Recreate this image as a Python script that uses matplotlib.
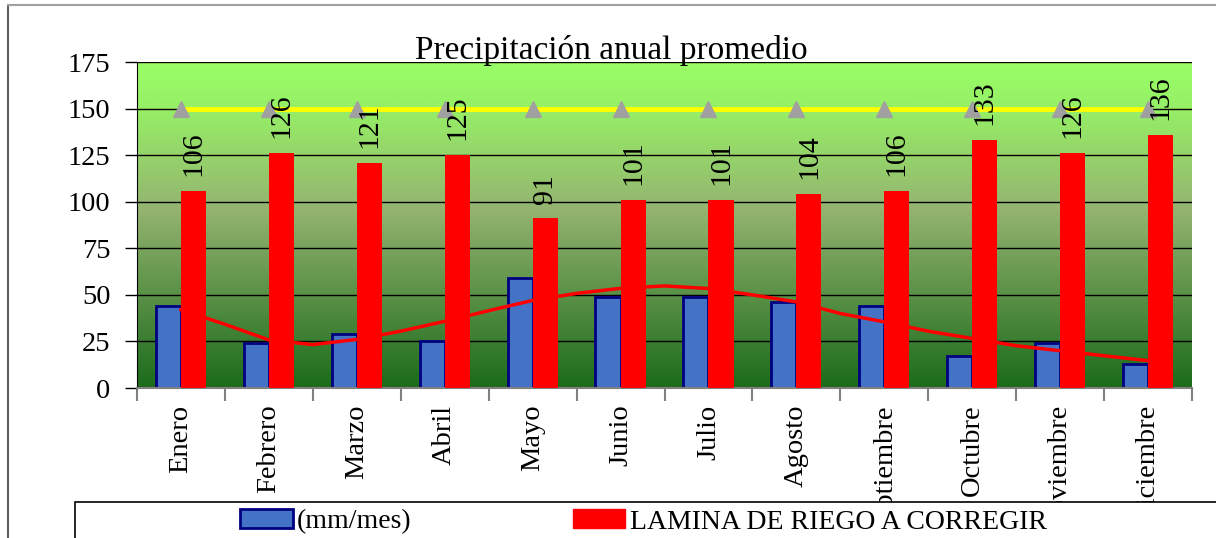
#!/usr/bin/env python3
"""Precipitación anual promedio — barras mm/mes vs lámina de riego."""
import matplotlib
matplotlib.use("Agg")
import matplotlib.pyplot as plt
import numpy as np
from matplotlib.colors import LinearSegmentedColormap
from matplotlib.lines import Line2D
from matplotlib.patches import Patch, Rectangle
from matplotlib.transforms import Bbox

MESES = ["Enero", "Febrero", "Marzo", "Abril", "Mayo", "Junio", "Julio",
         "Agosto", "Septiembre", "Octubre", "Noviembre", "Diciembre"]
PRECIP = [44, 24, 29, 25, 59, 49, 49, 46, 44, 17, 24, 13]
LAMINA = [106, 126, 121, 125, 91, 101, 101, 104, 106, 133, 126, 136]
LIMITE = [150] * 12

# curva de tendencia (posición de categoría, valor)
TREND_X = [0, 0.5, 1, 1.5, 2, 2.5, 3, 3.5, 4, 4.5, 5, 5.5,
           6, 6.5, 7, 7.5, 8, 8.5, 9, 9.5, 10, 10.5, 11]
TREND_Y = [42, 34.2, 25.8, 23.3, 26.1, 30.5, 35.8, 41.5, 47, 50.8, 53.5, 54.8,
           53.4, 50, 46.2, 40, 35.5, 30.5, 26.6, 22.7, 20, 17.3, 14.7]

YTICKS = [0, 25, 50, 75, 100, 125, 150, 175]

plt.rcParams["font.family"] = ["Liberation Serif", "DejaVu Serif"]
FS = 20.5

W, H = 1216, 538
fig = plt.figure(figsize=(W / 100, H / 100), dpi=100)
ax = fig.add_axes([137 / W, 1 - 388 / H, (1192 - 137) / W, (388 - 62) / H])

x = np.arange(len(MESES))
bw = 0.285

# fondo degradado
cmap = LinearSegmentedColormap.from_list(
    "fondo", [(0.0, "#99FF66"), (0.15, "#96EE66"), (0.45, "#94B470"), (1.0, "#1B6B1B")])
grad = np.linspace(0, 1, 256).reshape(-1, 1)
ax.imshow(grad, cmap=cmap, aspect="auto", extent=[-0.5, 11.5, 0, 175],
          origin="upper", zorder=0)

ax.bar(x - bw / 2, PRECIP, width=bw, color="#4472C4", edgecolor="#000080",
       linewidth=2, zorder=2)
ax.plot(TREND_X, TREND_Y, color="#FF0000", linewidth=2.5, zorder=3)
ax.bar(x + bw / 2, LAMINA, width=bw, color="#FF0000", linewidth=0, zorder=4)
ax.plot(x, LIMITE, color="#FFFF00", linewidth=3.5, marker="^",
        markersize=11, markerfacecolor="#A0A0A0", markeredgecolor="#A0A0A0",
        zorder=5)

for xi, v in zip(x, LAMINA):
    ax.text(xi + bw / 2, v + 8, f"{v}", rotation=90, ha="center", va="bottom",
            fontsize=21.5, zorder=6, clip_on=False)

ax.set_xlim(-0.5, 11.5)
ax.set_ylim(0, 175)
ax.set_yticks(YTICKS)
ax.set_yticklabels([str(t) for t in YTICKS], fontsize=FS)
ax.grid(axis="y", color="black", linewidth=1)
ax.set_axisbelow(True)
ax.tick_params(axis="y", direction="out", length=9, width=1, pad=10)

ax.set_xticks(x)
ax.set_xticklabels(MESES, rotation=90, fontsize=FS, va="top")
ax.tick_params(axis="x", which="major", length=0, pad=12)
ax.set_xticks(np.arange(-0.5, 12, 1), minor=True)
ax.tick_params(axis="x", which="minor", direction="out", length=9,
               width=1.5, color="#808080")

# las etiquetas quedan cortadas por la caja de la leyenda
clip = Bbox.from_extents(0, H - 502, W, H)
for lbl in ax.get_xticklabels():
    lbl.set_clip_box(clip)
    lbl.set_clip_on(True)

for side in ("top", "right"):
    ax.spines[side].set_visible(False)
ax.spines["bottom"].set_color("#808080")
ax.spines["bottom"].set_linewidth(1.5)
ax.spines["left"].set_color("black")

fig.text(611 / W, 1 - 51 / H, "Precipitación anual promedio", ha="center",
         va="center", fontsize=24)

# borde exterior del gráfico
fig.add_artist(Line2D([7.5 / W, 7.5 / W], [0, 1 - 5 / H], color="#606060",
                      linewidth=1.5))
fig.add_artist(Line2D([7.5 / W, 1], [1 - 5 / H, 1 - 5 / H], color="#A0A0A0",
                      linewidth=1.5))

# caja de leyenda
fig.add_artist(Rectangle((75 / W, -0.01), 1.0, (538 - 502) / H + 0.01,
                         transform=fig.transFigure, facecolor="white",
                         edgecolor="black", linewidth=1.2, zorder=10))
handles = [Patch(facecolor="#4472C4", edgecolor="#000080", linewidth=2),
           Patch(facecolor="#FF0000", edgecolor="#FF0000")]
leg = fig.legend(handles, ["(mm/mes)", "LAMINA DE RIEGO A CORREGIR"],
                 loc="center left", bbox_to_anchor=(240 / W, 1 - 522 / H),
                 ncol=2, frameon=False, fontsize=20, handlelength=1.9,
                 handleheight=0.65, handletextpad=0.15, columnspacing=5.8,
                 borderpad=0, borderaxespad=0)
leg.set_zorder(11)

fig.savefig("out.png", dpi=100)
